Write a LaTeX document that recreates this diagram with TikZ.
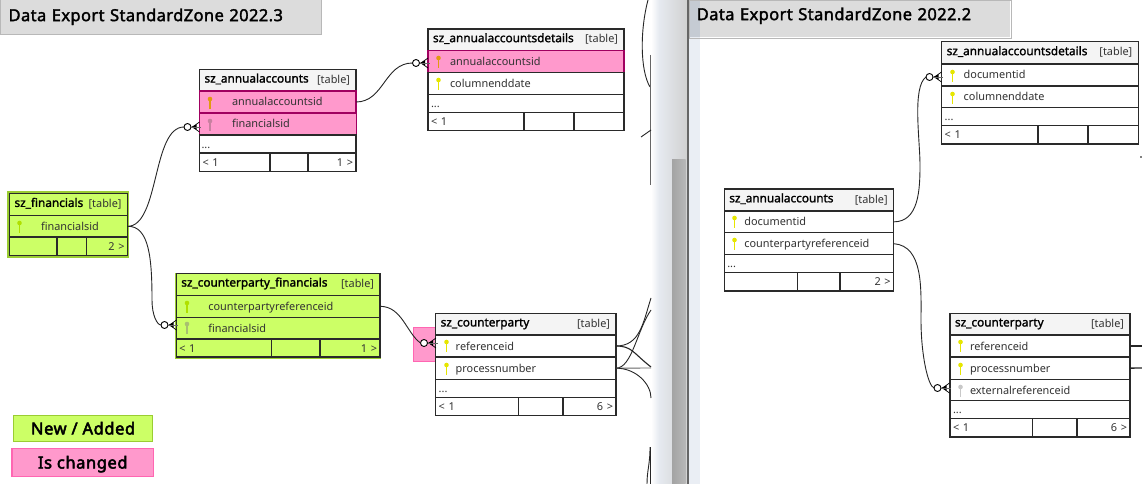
\documentclass[tikz,border=0pt]{standalone}
\usepackage{fontspec}
\setmainfont{Noto Sans}
\newfontfamily\hdfont{Noto Sans}[FakeBold=1.6]
\newfontfamily\ttlfont{Noto Sans}[FakeBold=2,LetterSpace=2.4]
\newfontfamily\lgfont{Noto Sans}[FakeBold=3,LetterSpace=3.5]
\usetikzlibrary{calc}
\definecolor{linec}{HTML}{2A2A2A}
\definecolor{txtc}{HTML}{333333}
\definecolor{greenf}{HTML}{CCFF66}
\definecolor{greenb}{HTML}{9ACD32}
\definecolor{pinkf}{HTML}{FF99CC}
\definecolor{pinkb}{HTML}{FF66B2}
\definecolor{pinkd}{HTML}{A00060}
\definecolor{headf}{HTML}{F4F4F4}
\definecolor{ttlf}{HTML}{DCDCDC}
\definecolor{ttlb}{HTML}{B8B8B8}
\definecolor{kyellow}{HTML}{E6E600}
\definecolor{korange}{HTML}{E09A10}
\definecolor{kpink}{HTML}{C880A0}
\definecolor{kgreen}{HTML}{B0E000}
\definecolor{kgreeng}{HTML}{A8C070}
\definecolor{kgrey}{HTML}{C8C8C8}
\definecolor{panela}{HTML}{E6EAF0}
\definecolor{panelb}{HTML}{D0D0D0}
\definecolor{panelc}{HTML}{EAEEF4}
\definecolor{paneld}{HTML}{C5CBD3}
\tikzset{
  x=1pt,y=-1pt,
  cell/.style={draw=linec,line width=1.2pt,anchor=north west,inner sep=0pt,outer sep=0pt,
    align=left,text height=10pt,text depth=2pt,text=txtc,font=\fontsize{10.9}{13}\selectfont},
  white row/.style={fill=white},
  head row/.style={fill=headf,text height=9pt,text depth=3pt},
  green row/.style={fill=greenf},
  green head/.style={fill=greenf,text height=9pt,text depth=3pt},
  pink row/.style={fill=pinkf,draw=pinkd,line width=1.4pt},
  conn/.style={draw=black!85,line width=.9pt},
  hub/.style={circle,draw=black,fill=white,line width=.9pt,minimum size=7pt,inner sep=0pt,outer sep=0pt},
  ttl/.style={draw=ttlb,line width=1.2pt,anchor=north west,inner sep=0pt,align=left,
    text height=11pt,text depth=3pt,font=\fontsize{16.5}{19}\ttlfont},
  legend/.style={anchor=north west,inner sep=0pt,align=center,text height=12pt,text depth=0pt,
    font=\fontsize{16.5}{19}\lgfont,line width=1.2pt},
}
\newcommand\cellnode[7]{\node[cell,#6,minimum width={(#4-#2)*1pt},minimum height={(#5-#3)*1pt},text width={(#4-#2)*1pt}] (#1) at (#2,#3) {#7};}
\newcommand\headtxt[2]{\hspace*{5pt}\raisebox{.7pt}{\fontsize{11.8}{13}\hdfont\color{black}#1}\hfill{\color{txtc}[table]}\hspace*{#2pt}}
\newcommand\keyic[3]{\fill[#3] (#1,#2-3) circle (2.3);\draw[#3,line width=1.5pt] (#1,#2-3) -- (#1,#2+7);}
\newcommand\crowfoot[1]{%
  \fill[black] ($(#1.east)+(.5,0)$) -- ++(5,-2.6) -- ++(0,5.2) -- cycle;
  \draw[black,line width=.7pt] ($(#1.east)+(1.5,0)$) -- ($(#1.east)+(8.5,-5)$);
  \draw[black,line width=.7pt] ($(#1.east)+(1.5,0)$) -- ($(#1.east)+(8.5,5)$);
  \draw[black!60,line width=.5pt] (#1.east) -- ($(#1.east)+(10,0)$);}
\begin{document}
\begin{tikzpicture}
\useasboundingbox (0,0) rectangle (1142,484);
\fill[white] (0,0) rectangle (1142,484);
% panel between the two views
\shade[left color=white,right color=panela] (651,0) rectangle (659,484);
\shade[left color=panela,right color=panelb] (659,0) rectangle (688,484);
\fill[black!60] (687,0) rectangle (689,484);
\fill[panelc] (689,0) rectangle (700,484);
\shade[left color=black!36,right color=black!28] (672,159) rectangle (685.5,484);
% titles
\node[ttl,fill=ttlf,minimum width=321pt,minimum height=35pt,text width=321pt] (t1) at (0,-1) {\hspace*{8pt}Data Export StandardZone 2022.3};
\fill[ttlf] (689,0) rectangle (1010,37.5);
\fill[paneld] (689,0) rectangle (700,37.5);
\node[ttl,text height=8pt,text depth=7pt,minimum width=322pt,minimum height=38pt,text width=322pt] (t2) at (688.7,0) {\hspace*{7.5pt}Data Export StandardZone 2022.2};
% legend
\node[legend,draw=greenb,fill=greenf,minimum width=138.5pt,minimum height=26.5pt] (lg1) at (13.2,414.6) {New / Added};
\node[legend,draw=pinkb,fill=pinkf,minimum width=141.5pt,minimum height=28.5pt] (lg2) at (11.4,447.6) {Is changed};
% pink square behind hub
\node[draw=pinkb,fill=pinkf,line width=1pt,anchor=north west,inner sep=0pt,minimum width=24pt,minimum height=34pt] (pk) at (412.5,326.8) {};
% green outer frames
\node[draw=greenb,fill=greenf,line width=2pt,anchor=north west,inner sep=0pt,minimum width=120pt,minimum height=64.5pt] (gf1) at (7.4,191.4) {};
\node[draw=greenb,fill=greenf,line width=1.5pt,anchor=north west,inner sep=0pt,minimum width=205pt,minimum height=84pt] (gf2) at (174.8,273) {};
% sz_annualaccounts (left)
\cellnode{aaH}{199.5}{69.5}{356}{91}{head row}{\headtxt{sz\_annualaccounts}{6}}
\cellnode{aaA}{199.5}{91}{356}{113}{pink row}{\hspace*{32.5pt}annualaccountsid}
\cellnode{aaB}{199.5}{113}{356.5}{135}{pink row}{\hspace*{32.5pt}financialsid}
\cellnode{aaD}{199.5}{135}{356}{153}{white row}{\hspace*{2pt}...}
\cellnode{aaF1}{199.5}{153}{270}{171.5}{white row}{\hspace*{3pt}< 1}
\cellnode{aaF2}{270}{153}{308}{171.5}{white row}{}
\cellnode{aaF3}{308}{153}{356}{171.5}{white row}{\hfill 1 >\hspace*{3pt}}
\keyic{210}{102}{korange}
\keyic{210}{124}{kpink}
% sz_annualaccountsdetails (left)
\cellnode{adH}{428}{29}{624}{50.7}{head row}{\headtxt{sz\_annualaccountsdetails}{6}}
\cellnode{adA}{428}{50.7}{624}{72.7}{pink row}{\hspace*{22pt}annualaccountsid}
\cellnode{adB}{428}{72.7}{624}{94.7}{white row}{\hspace*{22pt}columnenddate}
\cellnode{adD}{428}{94.7}{624}{112.7}{white row}{\hspace*{3pt}...}
\cellnode{adF1}{428}{112.7}{524}{130.7}{white row}{\hspace*{3pt}< 1}
\cellnode{adF2}{524}{112.7}{574}{130.7}{white row}{}
\cellnode{adF3}{574}{112.7}{624}{130.7}{white row}{}
\keyic{438.5}{61}{korange}
\keyic{438.5}{83}{kyellow}
% sz_financials
\cellnode{fiH}{9.5}{193.5}{127.5}{215.7}{green head}{\headtxt{sz\_financials}{6}}
\cellnode{fiA}{9.5}{215.7}{127.5}{237}{green row}{\hspace*{31.5pt}financialsid}
\cellnode{fiF1}{9.5}{237}{57}{255.5}{green row}{}
\cellnode{fiF2}{57}{237}{86.7}{255.5}{green row}{}
\cellnode{fiF3}{86.7}{237}{127.5}{255.5}{green row}{\hfill 2 >\hspace*{3pt}}
\keyic{19.5}{226}{kgreen}
% sz_counterparty_financials
\cellnode{cfH}{176.3}{273.3}{380}{295.3}{green head}{\headtxt{sz\_counterparty\_financials}{6}}
\cellnode{cfA}{176.3}{295.3}{380}{317.3}{green row}{\hspace*{32pt}counterpartyreferenceid}
\cellnode{cfB}{176.3}{317.3}{380}{339}{green row}{\hspace*{32pt}financialsid}
\cellnode{cfF1}{176.3}{339}{271.7}{357}{green row}{\hspace*{3pt}< 1}
\cellnode{cfF2}{271.7}{339}{320}{357}{green row}{}
\cellnode{cfF3}{320}{339}{380}{357}{green row}{\hfill 1 >\hspace*{3pt}}
\keyic{187}{306}{kgreen}
\keyic{187}{327}{kgreeng}
% sz_counterparty (left)
\cellnode{cpH}{435.7}{313.3}{616}{335}{head row}{\headtxt{sz\_counterparty}{6}}
\cellnode{cpA}{435.7}{335}{616}{357}{white row}{\hspace*{20pt}referenceid}
\cellnode{cpB}{435.7}{357}{616}{379.3}{white row}{\hspace*{20pt}processnumber}
\cellnode{cpD}{435.7}{379.3}{616}{397.3}{white row}{\hspace*{3pt}...}
\cellnode{cpF1}{435.7}{397.3}{518.7}{415.3}{white row}{\hspace*{3pt}< 1}
\cellnode{cpF2}{518.7}{397.3}{563}{415.3}{white row}{}
\cellnode{cpF3}{563}{397.3}{616}{415.3}{white row}{\hfill 6 >\hspace*{3pt}}
\keyic{446.5}{345}{kyellow}
\keyic{446.5}{368}{kyellow}
% sz_annualaccounts (right)
\cellnode{raH}{724.3}{189}{893.7}{211}{head row}{\headtxt{sz\_annualaccounts}{6}}
\cellnode{raA}{724.3}{211}{893.7}{232.7}{white row}{\hspace*{20pt}documentid}
\cellnode{raB}{724.3}{232.7}{893.7}{254.7}{white row}{\hspace*{20pt}counterpartyreferenceid}
\cellnode{raD}{724.3}{254.7}{893.7}{272.7}{white row}{\hspace*{3pt}...}
\cellnode{raF1}{724.3}{272.7}{797.3}{291}{white row}{}
\cellnode{raF2}{797.3}{272.7}{840}{291}{white row}{}
\cellnode{raF3}{840}{272.7}{893.7}{291}{white row}{\hfill 2 >\hspace*{3pt}}
\keyic{734.5}{221}{kyellow}
\keyic{734.5}{243}{kyellow}
% sz_annualaccountsdetails (right)
\cellnode{rdH}{941.7}{41.7}{1138.3}{64}{head row}{\headtxt{sz\_annualaccountsdetails}{6}}
\cellnode{rdA}{941.7}{64}{1138.3}{86}{white row}{\hspace*{22pt}documentid}
\cellnode{rdB}{941.7}{86}{1138.3}{107.7}{white row}{\hspace*{22pt}columnenddate}
\cellnode{rdD}{941.7}{107.7}{1138.3}{125.7}{white row}{\hspace*{3pt}...}
\cellnode{rdF1}{941.7}{125.7}{1038}{144}{white row}{\hspace*{3pt}< 1}
\cellnode{rdF2}{1038}{125.7}{1088}{144}{white row}{}
\cellnode{rdF3}{1088}{125.7}{1138.3}{144}{white row}{}
\keyic{952.5}{75}{kyellow}
\keyic{952.5}{97}{kyellow}
% sz_counterparty (right)
\cellnode{rcH}{950}{313.3}{1130}{335}{head row}{\headtxt{sz\_counterparty}{6}}
\cellnode{rcA}{950}{335}{1130}{357}{white row}{\hspace*{20pt}referenceid}
\cellnode{rcB}{950}{357}{1130}{379.3}{white row}{\hspace*{20pt}processnumber}
\cellnode{rcC}{950}{379.3}{1130}{400.7}{white row}{\hspace*{20pt}externalreferenceid}
\cellnode{rcD}{950}{400.7}{1130}{418.7}{white row}{\hspace*{3pt}...}
\cellnode{rcF1}{950}{418.7}{1032.7}{437}{white row}{\hspace*{3pt}< 1}
\cellnode{rcF2}{1032.7}{418.7}{1077}{437}{white row}{}
\cellnode{rcF3}{1077}{418.7}{1130}{437}{white row}{\hfill 6 >\hspace*{3pt}}
\keyic{960.5}{345}{kyellow}
\keyic{960.5}{368}{kyellow}
\keyic{960.5}{390}{kgrey}
% hubs
\node[hub] (h1) at (187.5,127) {};
\node[hub] (h2) at (416,63) {};
\node[hub] (h3) at (164.5,325) {};
\node[hub] (h4) at (424,343) {};
\node[hub] (h5) at (929.5,77) {};
\node[hub] (h6) at (937.5,388) {};
\crowfoot{h1}
\crowfoot{h2}
\crowfoot{h3}
\crowfoot{h4}
\crowfoot{h5}
\crowfoot{h6}
% connectors
\draw[conn] (fiA.east) .. controls +(32,0) and +(-32,0) .. (h1.west);
\draw[conn] (fiA.east) .. controls +(22,-1) and +(0,-40) .. (152,300) .. controls +(0,15) and +(-4,0) .. (h3.west);
\draw[conn] (aaA.east) .. controls +(28,0) and +(-28,0) .. (h2.west);
\draw[conn] (cfA.east) .. controls +(22,0) and +(-14,-10) .. (h4.west);
\draw[conn] (raA.east) .. controls +(25,0) and +(0,25) .. (920,165) .. controls +(0,-25) and +(-14,10) .. (h5.west);
\draw[conn] (raB.east) .. controls +(30,2) and +(0,-30) .. (921,320) .. controls +(0,35) and +(-6,-2) .. (h6.west);
% stubs that leave the left view
\coordinate (o1) at (651,298);
\coordinate (o2) at (651,367);
\coordinate (o3) at (651,310);
\coordinate (o4) at (651,368);
\coordinate (o5) at (651,398);
\draw[conn] (cpA.east) .. controls +(24,0) and +(-8,25) .. (o1);
\draw[conn,line width=1.1pt] (cpA.east) .. controls +(16,0) and +(-18,-14) .. (o2);
\draw[conn] (cpB.east) .. controls +(16,0) and +(-14,20) .. (o3);
\draw[conn,black!60] (cpB.east) -- (o4);
\draw[conn] (cpB.east) .. controls +(20,0) and +(0,-14) .. (o5);
\coordinate (u1) at (648,0);
\coordinate (u2) at (650,87);
\coordinate (u3) at (650,55);
\coordinate (u4) at (650,185);
\coordinate (u5) at (641,137);
\coordinate (u6) at (651,130);
\coordinate (u7) at (650,447);
\coordinate (u8) at (647,484);
\coordinate (u9) at (650,484);
\draw[conn] (u1) .. controls (640,30) and (640,70) .. (u2);
\draw[conn,black!60] (u3) -- (u4);
\draw[conn] (u5) -- (u6);
\draw[conn] (u7) .. controls (650,465) and (647,470) .. (u8);
\draw[conn] (u7) -- (u9);
% stubs on the right view
\coordinate (v1) at (1142,346);
\coordinate (v2) at (1142,368);
\coordinate (v3) at (1141,157);
\draw[conn,line width=1.3pt] (rcA.east) -- (v1);
\draw[conn,line width=1.3pt] (rcB.east) -- (v2);
\fill[black] (v3) circle (.8);
\end{tikzpicture}
\end{document}
